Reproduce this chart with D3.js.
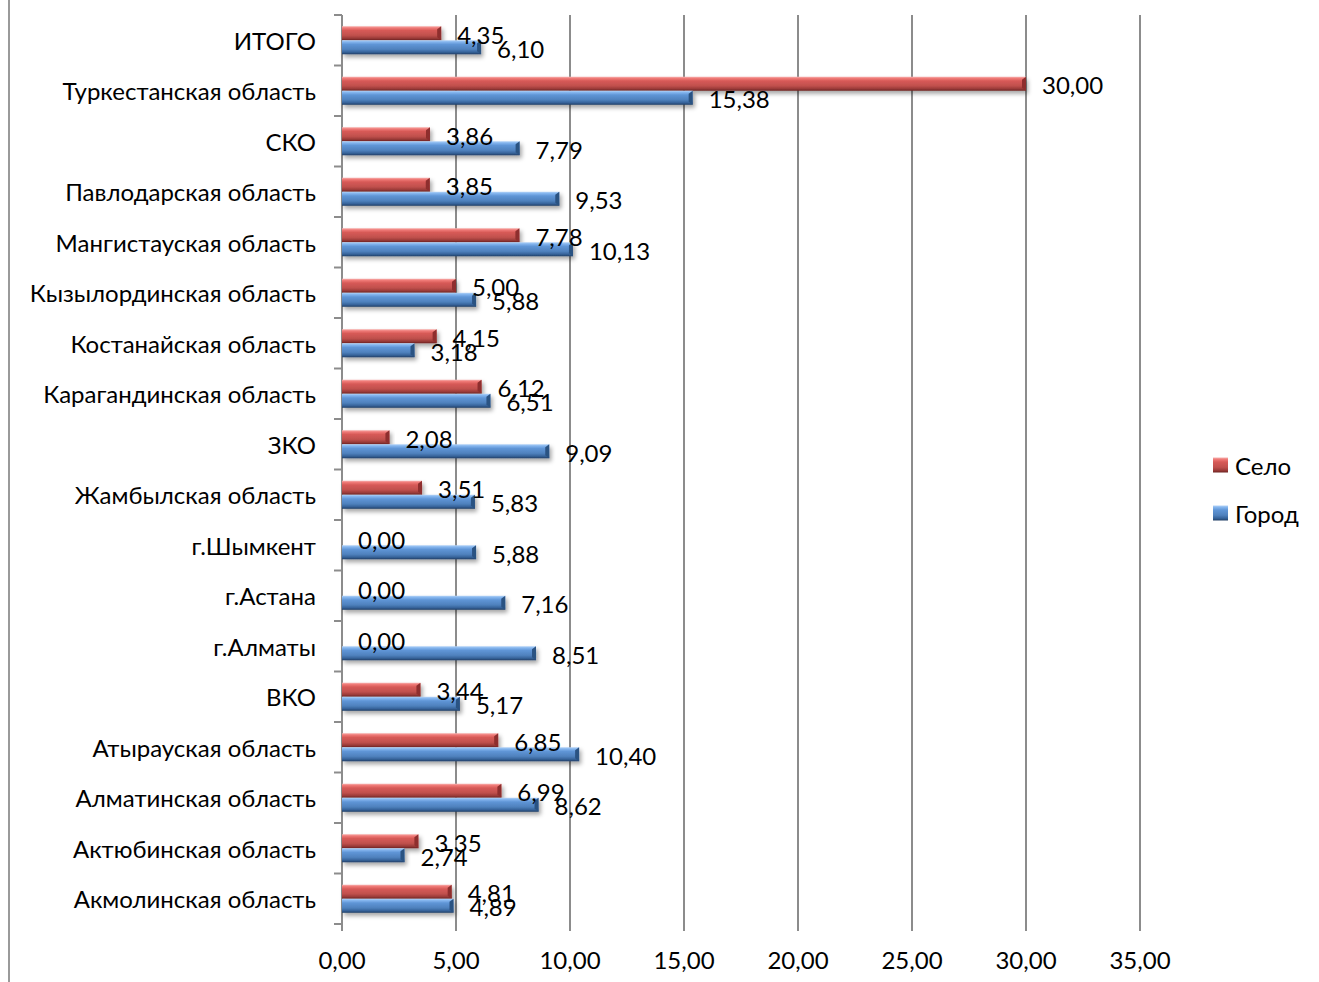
<!DOCTYPE html>
<html><head><meta charset="utf-8">
<script src="https://cdn.jsdelivr.net/npm/d3@7"></script>
<style>
html,body{margin:0;padding:0;background:#fff;}
svg{display:block;}
text{font-family:Lato,"Open Sans",sans-serif;fill:#000;}
</style></head>
<body>
<svg id="chart" width="1319" height="982"></svg>
<script>
// Categories listed top to bottom as in the chart
const categories = ["ИТОГО","Туркестанская область","СКО","Павлодарская область","Мангистауская область","Кызылординская область","Костанайская область","Карагандинская область","ЗКО","Жамбылская область","г.Шымкент","г.Астана","г.Алматы","ВКО","Атырауская область","Алматинская область","Актюбинская область","Акмолинская область"];
const seriesNames = ["Село","Город"];
const seloValues =  [4.35,30.00,3.86,3.85,7.78,5.00,4.15,6.12,2.08,3.51,0.00,0.00,0.00,3.44,6.85,6.99,3.35,4.81];
const gorodValues = [6.10,15.38,7.79,9.53,10.13,5.88,3.18,6.51,9.09,5.83,5.88,7.16,8.51,5.17,10.40,8.62,2.74,4.89];
const xTicks = [0,5,10,15,20,25,30,35];

const svg = d3.select("#chart");
const W = 1319, H = 982;
const L = 342, R = 1140, T = 15, B = 924;
const FS = "24px";

const x = d3.scaleLinear().domain([0,35]).range([L,R]);
const y0 = d3.scaleBand().domain(categories).range([T,B]).padding(0);
const y1 = d3.scaleBand().domain(seriesNames).range([0,y0.bandwidth()]).paddingInner(0).paddingOuter(0.8);

const defs = svg.append("defs");
function grad(id, stops){
  const g = defs.append("linearGradient").attr("id",id).attr("x1",0).attr("y1",0).attr("x2",0).attr("y2",1);
  stops.forEach(s=>g.append("stop").attr("offset",s[0]).attr("stop-color",s[1]));
}
grad("gSelo",[[0,"#f7b2b0"],[0.12,"#ef7a77"],[0.3,"#d75a57"],[0.65,"#c0504d"],[0.85,"#9c3b39"],[1,"#6e2422"]]);
grad("gGorod",[[0,"#b4d3f7"],[0.12,"#84b5ee"],[0.3,"#5f95d6"],[0.65,"#4f81bd"],[0.85,"#36639a"],[1,"#213f66"]]);
const f = defs.append("filter").attr("id","shadow").attr("x","-5%").attr("y","-40%").attr("width","115%").attr("height","200%");
f.append("feDropShadow").attr("dx",2).attr("dy",3).attr("stdDeviation",2).attr("flood-color","#000").attr("flood-opacity",0.35);

const seriesInfo = {
  "Село": {vals: seloValues, fill:"url(#gSelo)", cap:"#8e2f2d"},
  "Город": {vals: gorodValues, fill:"url(#gGorod)", cap:"#2c5282"}
};

// left frame line
svg.append("line").attr("x1",9).attr("x2",9).attr("y1",0).attr("y2",H).attr("stroke","#9a9a9a").attr("stroke-width",2);

// gridlines
svg.append("g").selectAll("line").data(xTicks).join("line")
  .attr("x1",d=>x(d)).attr("x2",d=>x(d)).attr("y1",T).attr("y2",B+7)
  .attr("stroke","#8c8c8c").attr("stroke-width",2);

// category axis ticks (band boundaries)
const bounds = categories.map(c=>y0(c)).concat([B]);
svg.append("g").selectAll("line").data(bounds).join("line")
  .attr("x1",L-8).attr("x2",L).attr("y1",d=>d).attr("y2",d=>d)
  .attr("stroke","#8c8c8c").attr("stroke-width",2);

// x tick labels
svg.append("g").selectAll("text").data(xTicks).join("text")
  .attr("x",d=>x(d)).attr("y",959).attr("text-anchor","middle").attr("dominant-baseline","central")
  .style("font-size",FS).text(d=>d3.format(".2f")(d).replace(".",","));

// category labels
svg.append("g").selectAll("text").data(categories).join("text")
  .attr("x",316).attr("y",d=>y0(d)+y0.bandwidth()/2).attr("text-anchor","end").attr("dominant-baseline","central")
  .style("font-size",FS).text(d=>d);

// bars
const rows = [];
categories.forEach((c,i)=>seriesNames.forEach(s=>rows.push({cat:c, s, v:seriesInfo[s].vals[i]})));
const bh = y1.bandwidth();
const bars = svg.append("g").selectAll("g").data(rows.filter(d=>d.v>0)).join("g").attr("filter","url(#shadow)");
bars.append("rect")
  .attr("x",x(0)).attr("y",d=>y0(d.cat)+y1(d.s)).attr("width",d=>x(d.v)-x(0)).attr("height",bh)
  .attr("fill",d=>seriesInfo[d.s].fill);
// bevel end cap
bars.append("polygon").attr("points",d=>{
  const xe=x(d.v), yt=y0(d.cat)+y1(d.s), k=4;
  return [[xe-k,yt+3],[xe,yt],[xe,yt+bh],[xe-k,yt+bh-3]].map(p=>p.join(",")).join(" ");
}).attr("fill",d=>seriesInfo[d.s].cap);

// data labels
svg.append("g").selectAll("text").data(rows).join("text")
  .attr("x",d=>x(d.v)+16).attr("y",d=>y0(d.cat)+y1(d.s)+bh/2+1)
  .attr("dominant-baseline","central").style("font-size",FS)
  .text(d=>d3.format(".2f")(d.v).replace(".",","));

// legend
const leg = svg.append("g");
const legY = {"Село":465,"Город":513};
seriesNames.forEach(s=>{
  leg.append("rect").attr("x",1213).attr("y",legY[s]-7.5).attr("width",15).attr("height",15).attr("fill",seriesInfo[s].fill);
  leg.append("text").attr("x",1235).attr("y",legY[s]).attr("dominant-baseline","central").style("font-size",FS).text(s);
});
</script>
</body></html>
